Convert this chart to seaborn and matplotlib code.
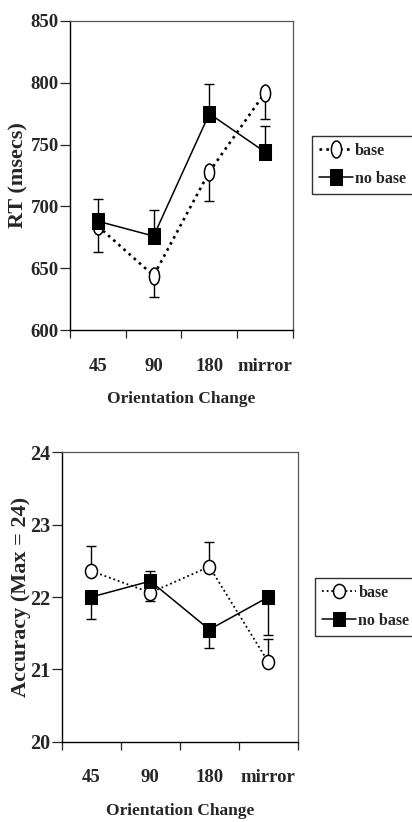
import numpy as np
import matplotlib
matplotlib.use("Agg")
import matplotlib.pyplot as plt
import matplotlib.transforms as mtransforms
from matplotlib.path import Path
import seaborn as sns

# ## Data ## #
categories = ["45", "90", "180", "mirror"]
series_names = ["base", "no base"]

# reaction time (msecs)
base_rt = [684, 644, 728, 792]
nobase_rt = [688, 676, 775, 744]
base_rt_err_lo = [21, 17, 24, 21]
base_rt_err_hi = [0, 0, 0, 0]
nobase_rt_err_lo = [0, 0, 0, 0]
nobase_rt_err_hi = [18, 21, 24, 21]

# accuracy (max = 24)
base_acc = [22.36, 22.06, 22.42, 21.10]
nobase_acc = [22.00, 22.22, 21.55, 22.00]
base_acc_err_lo = [0, 0.12, 0, 0]
base_acc_err_hi = [0.34, 0, 0.34, 0.32]
nobase_acc_err_lo = [0.30, 0, 0.26, 0.52]
nobase_acc_err_hi = [0, 0.14, 0, 0]


def ellipse_marker(aspect):
    return Path.unit_circle().transformed(mtransforms.Affine2D().scale(aspect, 1.0))


def rect_marker(aspect):
    return [(-aspect, -1), (aspect, -1), (aspect, 1), (-aspect, 1), (-aspect, -1)]


def draw_panel(ax, base, nobase, base_err, nobase_err, ylim, yticks, ylabel, ylabel_x,
               ytick_size, ms, circ_aspect, sq_aspect, dot_lw, legend_anchor, fig):
    x = np.arange(len(categories))

    # lines and markers
    sns.lineplot(x=categories, y=base, ax=ax, color="black", lw=dot_lw,
                 linestyle=(0, (1, 1.6)), marker=ellipse_marker(circ_aspect),
                 markersize=ms, markerfacecolor="white", markeredgecolor="black",
                 markeredgewidth=1.1, label=series_names[0], zorder=3)
    h_base = ax.lines[-1]
    sns.lineplot(x=categories, y=nobase, ax=ax, color="black", lw=1.1,
                 linestyle="-", marker=rect_marker(sq_aspect),
                 markersize=ms, markerfacecolor="black", markeredgecolor="black",
                 label=series_names[1], zorder=4)
    h_nobase = ax.lines[-1]

    # one-sided error bars
    ax.errorbar(x, base, yerr=[base_err[0], base_err[1]], fmt="none",
                ecolor="black", elinewidth=1, capsize=3.5, capthick=1, zorder=2)
    ax.errorbar(x, nobase, yerr=[nobase_err[0], nobase_err[1]], fmt="none",
                ecolor="black", elinewidth=1, capsize=3.5, capthick=1, zorder=2)

    ax.set_xlim(-0.5, len(categories) - 0.5)
    ax.set_ylim(*ylim)
    ax.set_yticks(yticks)
    ax.set_xticks(x)
    ax.set_xticklabels(categories)
    ax.set_xticks(np.arange(-0.5, len(categories)), minor=True)
    ax.tick_params(axis="x", which="major", length=0, pad=20, labelsize=13.5)
    ax.tick_params(axis="x", which="minor", length=6, width=0.9, direction="out")
    ax.tick_params(axis="y", length=7, width=0.9, direction="out", labelsize=ytick_size, pad=1)
    for lab in ax.get_xticklabels() + ax.get_yticklabels():
        lab.set_fontweight("bold")

    ax.set_xlabel("Orientation Change", fontsize=12.5, fontweight="bold", labelpad=12)
    ax.set_ylabel(ylabel, fontsize=16, fontweight="bold")
    ax.yaxis.set_label_coords(ylabel_x, 0.5)

    for side in ["left", "bottom"]:
        ax.spines[side].set_color("black")
        ax.spines[side].set_linewidth(1.0)
    for side in ["top", "right"]:
        ax.spines[side].set_visible(True)
        ax.spines[side].set_color("#555555")
        ax.spines[side].set_linewidth(0.9)

    leg = ax.legend(handles=[h_base, h_nobase], labels=series_names,
                    loc="upper left", bbox_to_anchor=legend_anchor,
                    bbox_transform=fig.transFigure, frameon=True, fancybox=False,
                    edgecolor="black", handlelength=2.1, handletextpad=0.15,
                    borderpad=0.45, labelspacing=0.75, borderaxespad=0,
                    prop={"family": "Liberation Serif", "weight": "bold", "size": 11.5})
    leg.get_frame().set_linewidth(1.0)


sns.set_theme(style="ticks")
plt.rcParams["font.family"] = ["Liberation Serif", "DejaVu Serif"]

fig = plt.figure(figsize=(4.12, 8.22), dpi=100)
ax1 = fig.add_axes([0.170, 0.5985, 0.541, 0.376])
ax2 = fig.add_axes([0.150, 0.0977, 0.573, 0.352])

draw_panel(ax1, base_rt, nobase_rt,
           (base_rt_err_lo, base_rt_err_hi), (nobase_rt_err_lo, nobase_rt_err_hi),
           (600, 850), np.arange(600, 851, 50), "RT (msecs)", -0.185, 13.5,
           ms=12.2, circ_aspect=0.6, sq_aspect=0.65, dot_lw=1.9,
           legend_anchor=(0.757, 0.835), fig=fig)

draw_panel(ax2, base_acc, nobase_acc,
           (base_acc_err_lo, base_acc_err_hi), (nobase_acc_err_lo, nobase_acc_err_hi),
           (20, 24), np.arange(20, 25, 1), "Accuracy (Max = 24)", -0.13, 14.5,
           ms=10.2, circ_aspect=0.85, sq_aspect=0.78, dot_lw=1.3,
           legend_anchor=(0.765, 0.2972), fig=fig)

fig.savefig("out.png", dpi=100, facecolor="white")
